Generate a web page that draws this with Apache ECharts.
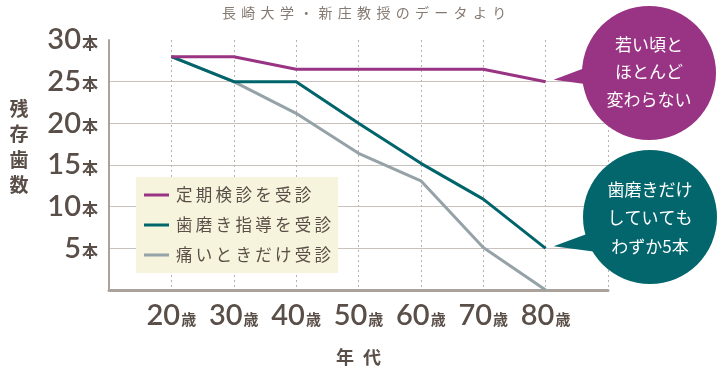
<!DOCTYPE html>
<html><head><meta charset="utf-8">
<script src="https://cdn.jsdelivr.net/npm/echarts@6/dist/echarts.min.js"></script>
<style>html,body{margin:0;padding:0;background:#fff}#c{width:718px;height:372px}</style>
</head><body><div id="c"></div>
<script>
const ages = [20, 30, 40, 50, 60, 70, 80];
const regularCheckup = [28, 28, 26.5, 26.5, 26.5, 26.5, 25];
const brushingGuide = [28, 25, 25, 20, 15.2, 10.9, 5];
const painOnly = [28, 25, 21.2, 16.4, 13.1, 5.1, 0];
const seriesNames = ['定期検診を受診', '歯磨き指導を受診', '痛いときだけ受診'];
const seriesColors = ['#993383', '#00656b', '#95a2a8'];
const yTicks = [5, 10, 15, 20, 25, 30];
const titleText = '長崎大学・新庄教授のデータより';
const bubbleA = ['若い頃と', 'ほとんど', '変わらない'];
const bubbleB = ['歯磨きだけ', 'していても', 'わずか5本'];

const txt = '#5a4f48';
const numFont = 'Lato';
const jp = '"Noto Sans CJK JP"';
const chart = echarts.init(document.getElementById('c'));
const series = [regularCheckup, brushingGuide, painOnly].map((vals, i) => ({
  name: seriesNames[i], type: 'line', symbol: 'none', animation: false,
  data: ages.map((a, k) => [a, vals[k]]),
  lineStyle: { width: 3, color: seriesColors[i] }, itemStyle: { color: seriesColors[i] }, z: 5 - i
}));
chart.setOption({
  animation: false,
  grid: { left: 109, top: 40, right: 110, bottom: 82 },
  legend: {
    orient: 'vertical', left: 136, top: 177, backgroundColor: '#f6f4dc', borderRadius: 0,
    padding: [9, 7, 9, 8], itemGap: 12, itemWidth: 25, itemHeight: 3, icon: 'rect',
    formatter: n => n.split('').join('\u2009'),
    textStyle: { fontFamily: jp, fontSize: 16.5, color: txt, lineHeight: 18, padding: [0, 0, 0, 2] },
    data: seriesNames
  },
  xAxis: {
    type: 'value', min: 10, max: 90, interval: 10,
    axisLine: { show: true, lineStyle: { color: '#aaa39d', width: 3 } },
    axisTick: { show: false },
    splitLine: { show: true, lineStyle: { color: '#b8b0aa', type: [2, 3], width: 1 } },
    axisLabel: {
      margin: 11,
      formatter: v => ages.includes(v) ? '{n|' + v + '}{u|歳}' : '',
      rich: { n: { fontFamily: numFont, fontSize: 29, color: txt, fontWeight: 600 }, u: { fontFamily: jp, fontSize: 15, fontWeight: 'bold', color: txt, padding: [7, 0, 0, 1] } }
    },
    name: '年\u2002代', nameLocation: 'middle', nameGap: 58,
    nameTextStyle: { fontFamily: jp, fontSize: 18, color: txt, fontWeight: 'bold' }
  },
  yAxis: {
    type: 'value', min: 0, max: 30, interval: 5,
    axisLine: { show: true, lineStyle: { color: '#aaa39d', width: 2 } },
    axisTick: { show: false },
    splitLine: { show: true, lineStyle: { color: ['#c9c1bc', '#c9c1bc', '#c9c1bc', '#c9c1bc', '#c9c1bc', '#c9c1bc', 'rgba(0,0,0,0)'], width: 1 } },
    axisLabel: {
      margin: 11,
      formatter: v => yTicks.includes(v) ? '{n|' + v + '}{u|本}' : '',
      rich: { n: { fontFamily: numFont, fontSize: 29, color: txt, fontWeight: 600 }, u: { fontFamily: jp, fontSize: 16, fontWeight: 'bold', color: txt, padding: [5, 0, 0, 1] } }
    }
  },
  series: series
});
function bubble(pt, cx, cy, r, color, lines, lh, ty) {
  const tip = [pt[0] + 8, pt[1] - 2];
  return [
    { type: 'polygon', shape: { points: [tip, [cx - r + 14, tip[1] - 16], [cx - r + 16, tip[1] + 6]] }, style: { fill: color }, z: 10 },
    { type: 'circle', shape: { cx: cx, cy: cy, r: r }, style: { fill: color }, z: 10 },
    { type: 'text', x: cx, y: ty, style: { text: lines.join('\n'), fill: '#fff', font: '17px ' + jp, align: 'center', verticalAlign: 'middle', lineHeight: lh }, z: 11 }
  ];
}
const p1 = chart.convertToPixel({ gridIndex: 0 }, [80, regularCheckup[6]]);
const p2 = chart.convertToPixel({ gridIndex: 0 }, [80, brushingGuide[6]]);
const titleChars = titleText.split('').map((ch, i) => ({
  type: 'text', x: 229 + i * 19.3, y: 13,
  style: { text: ch, fill: '#857a72', font: '14px ' + jp, align: 'center', verticalAlign: 'middle' }
}));
chart.setOption({
  graphic: [
    ...titleChars,
    { type: 'text', x: 19, y: 147, style: { text: '残\n存\n歯\n数', fill: txt, font: 'bold 19px ' + jp, align: 'center', verticalAlign: 'middle', lineHeight: 25.5 } },
    ...bubble(p1, 649, 73, 67, '#993383', bubbleA, 27.5, 72),
    ...bubble(p2, 650, 217, 67, '#02666c', bubbleB, 28.5, 218)
  ]
});
</script>
</body></html>
